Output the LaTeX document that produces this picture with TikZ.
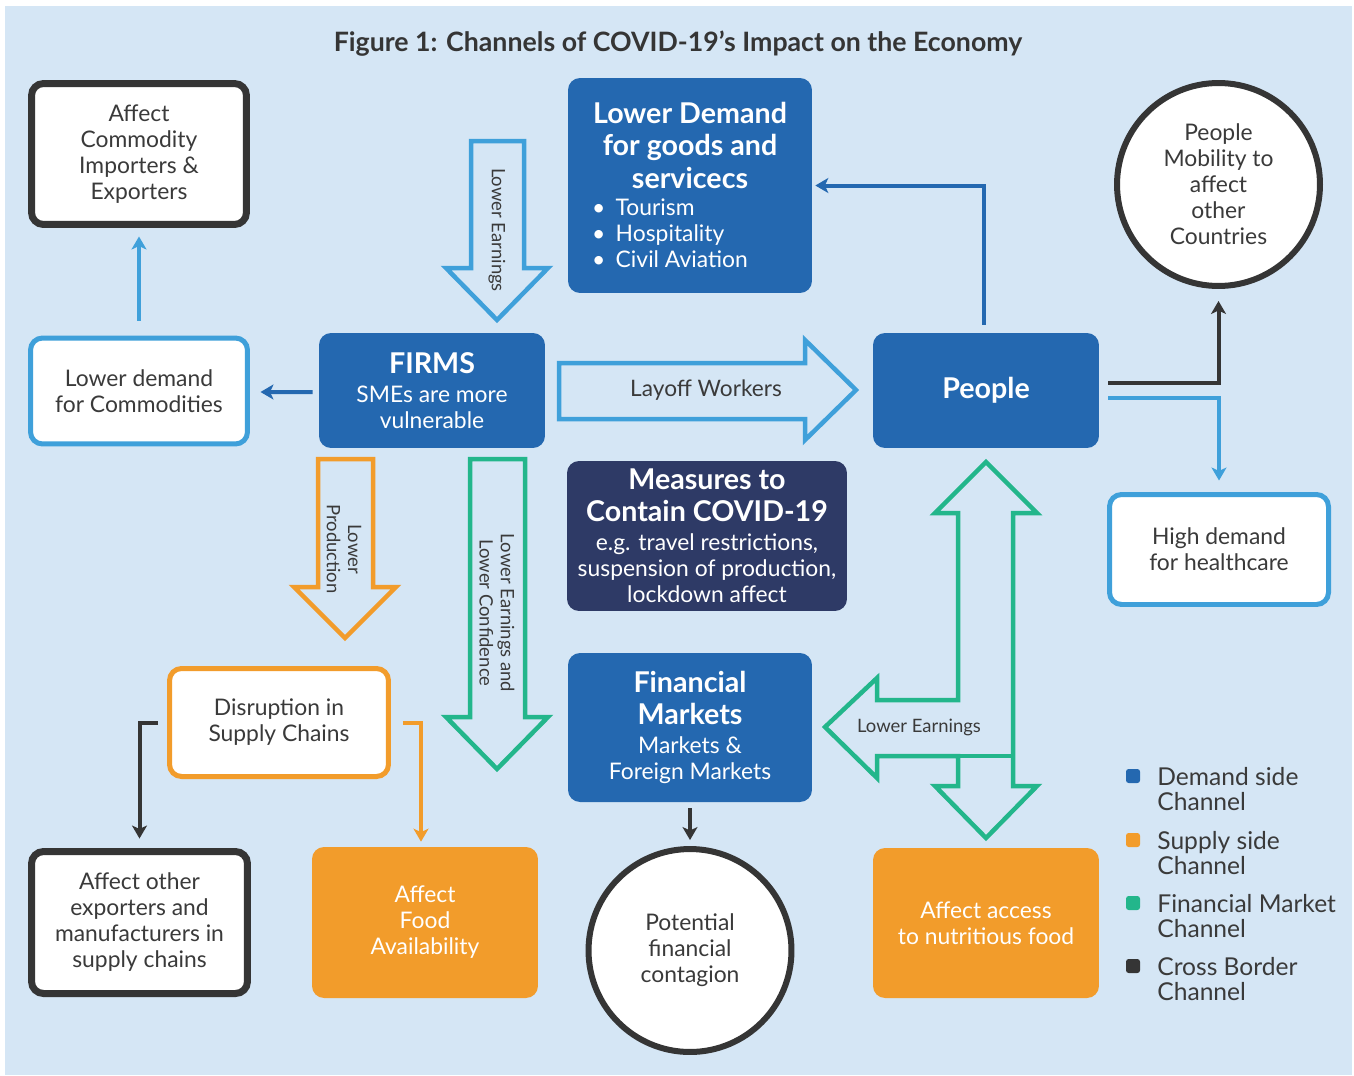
\documentclass[tikz,border=0pt,12pt]{standalone}
\usepackage{fontspec}
\setmainfont{Lato}
\usepackage{tikz}
\usetikzlibrary{arrows.meta,calc}

\definecolor{bgblue}{HTML}{D5E6F5}
\definecolor{demand}{HTML}{2468B0}
\definecolor{lightblue}{HTML}{3FA0DA}
\definecolor{supply}{HTML}{F29C2B}
\definecolor{finance}{HTML}{23B68B}
\definecolor{border}{HTML}{353535}
\definecolor{navy}{HTML}{2E3A66}
\definecolor{ink}{HTML}{3A3A3A}

\newcommand{\hdline}[1]{\textbf{\fontsize{16.3}{18}\selectfont #1}}

\begin{document}
\begin{tikzpicture}[x=0.02cm,y=-0.02cm,
  card/.style={rounded corners=0.24cm,inner sep=0pt,align=center,text=ink,
    font=\fontsize{13}{14.8}\selectfont},
  darkcard/.style={card,draw=border,line width=0.14cm,fill=white},
  bluecard/.style={card,draw=lightblue,line width=0.1cm,fill=white},
  orangecard/.style={card,draw=supply,line width=0.1cm,fill=white},
  tile/.style={card,fill=#1,text=white},
  ring/.style={circle,draw=border,line width=0.12cm,fill=white,inner sep=0pt,
    align=center,text=ink,minimum size=4.06cm,font=\fontsize{13}{14.8}\selectfont},
  link/.style={line width=0.08cm,-{Stealth[length=0.26cm,width=0.3cm,inset=0.07cm]}},
  hollow/.style={line width=0.09cm,line join=miter},
  tag/.style={font=\fontsize{10.5}{12}\selectfont,text=ink,align=center},
  key/.style={rounded corners=1.5pt,minimum size=0.28cm,inner sep=0pt,fill=#1},
  keytext/.style={anchor=west,align=left,inner sep=0pt,text=ink,font=\fontsize{14}{14.2}\selectfont}]

  \useasboundingbox (0,0) rectangle (1354,1075);
  \fill[white] (0,0) rectangle (1354,1075);
  \fill[bgblue] (5,6) rectangle (1352,1075);

  \node[text=border,font=\fontsize{15.2}{18}\selectfont\bfseries] (title) at (678,44)
    {Figure 1: Channels of COVID-19's Impact on the Economy};

  % left column
  \node[darkcard,minimum width=4.3cm,minimum height=2.82cm] (commod) at (139,154)
    {Affect\\Commodity\\Importers \&\\Exporters};
  \node[bluecard,minimum width=4.34cm,minimum height=2.12cm] (lowcom) at (139,391)
    {Lower demand\\for Commodities};
  \node[orangecard,minimum width=4.38cm,minimum height=2.16cm] (disrupt) at (279,722.5)
    {Disruption in\\Supply Chains};
  \node[darkcard,minimum width=4.32cm,minimum height=2.84cm] (othexp) at (139.5,922.5)
    {Affect other\\exporters and\\manufacturers in\\supply chains};
  \node[tile=supply,minimum width=4.52cm,minimum height=3.02cm] (food) at (425,922.5)
    {Affect\\Food\\Availability};

  % middle
  \node[tile=demand,minimum width=4.52cm,minimum height=2.3cm] (firms) at (432,390.5)
    {\hdline{FIRMS}\\[1.5pt]SMEs are more\\vulnerable};
  \node[tile=demand,minimum width=4.88cm,minimum height=4.3cm] (lowdem) at (690,185.5)
    {\rule{0pt}{16pt}\hdline{Lower Demand}\\[3.4pt]\hdline{for goods and}\\[3pt]\hdline{servicecs}\\[4pt]
     \hspace*{-0.8cm}\begin{tabular}{@{}l@{}}\textbullet\hspace{0.45em}Tourism\\
     \textbullet\hspace{0.45em}Hospitality\\\textbullet\hspace{0.45em}Civil Aviation\end{tabular}};
  \node[tile=navy,minimum width=5.6cm,minimum height=3cm] (measures) at (707,536)
    {\hdline{Measures to}\\[3.4pt]\hdline{Contain COVID-19}\\[1.5pt]e.g. travel restrictions,\\suspension of production,\\lockdown affect};
  \node[tile=demand,minimum width=4.88cm,minimum height=2.98cm] (finmkt) at (690,727.5)
    {\hdline{Financial}\\[3.4pt]\hdline{Markets}\\[1.5pt]Markets \&\\Foreign Markets};
  \node[ring] (contagion) at (690,950.5) {Potential\\financial\\contagion};

  % right
  \node[tile=demand,minimum width=4.52cm,minimum height=2.3cm] (people) at (986,390.5)
    {\hdline{People}};
  \node[ring] (mobility) at (1218.5,184.5) {People\\Mobility to\\affect\\other\\Countries};
  \node[bluecard,minimum width=4.38cm,minimum height=2.2cm] (health) at (1219,549.5)
    {High demand\\for healthcare};
  \node[tile=supply,minimum width=4.52cm,minimum height=3cm] (access) at (986,923)
    {Affect access\\to nutritious food};

  % hollow arrows
  \draw[hollow,lightblue] (471,141) -- (524,141) -- (524,268) -- (548,268) -- (497,320)
    -- (446,268) -- (471,268) -- cycle;
  \node[tag,rotate=-90] (earn) at (497,230) {Lower Earnings};
  \draw[hollow,lightblue] (559,363) -- (805,363) -- (805,340) -- (856,390) -- (805,440)
    -- (805,419) -- (559,419) -- cycle;
  \node[tag,font=\fontsize{12.9}{14}\selectfont] (layoff) at (706,390) {Layoff Workers};
  \draw[hollow,supply] (318,459) -- (373,459) -- (373,587) -- (396,587) -- (345,638)
    -- (294,587) -- (318,587) -- cycle;
  \node[tag,rotate=-90] (prod) at (344,549) {Lower\\Production};
  \draw[hollow,finance] (470,459) -- (525,459) -- (525,717) -- (548,717) -- (497,769)
    -- (446,717) -- (470,717) -- cycle;
  \node[tag,rotate=-90] (confid) at (497,613) {Lower Earnings and\\Lower Confidence};
  \draw[hollow,finance] (958,513) -- (935,513) -- (986,462) -- (1037,513) -- (1013,513)
    -- (1013,786) -- (1037,786) -- (986,838) -- (935,786) -- (958,786) -- (958,756)
    -- (877,756) -- (877,778) -- (825,727) -- (877,678) -- (877,700) -- (958,700) -- cycle;
  \draw[hollow,finance] (958,756) -- (1013,756);
  \node[tag] (finearn) at (919,727) {Lower Earnings};

  % connectors
  \draw[link,demand] ($(firms.west)+(-6,1.5)$) -- ($(lowcom.east)+(10.5,1)$);
  \draw[link,lightblue] ($(lowcom.north)+(0,-15)$) -- ($(commod.south)+(0,8.5)$);
  \draw[link,demand] ($(people.north)+(-2,-8)$) |- ($(lowdem.east)+(3,0)$);
  \draw[link,border] ($(people.east)+(9,-8)$) -| ($(mobility.south)+(0,12)$);
  \draw[link,lightblue] ($(people.east)+(9,7.5)$) -| ($(health.north)+(0,-11.5)$);
  \draw[link,border] ($(disrupt.west)+(-9,0)$) -| ($(othexp.north)+(0,-9.5)$);
  \draw[link,supply] ($(disrupt.east)+(12,0)$) -| ($(food.north)+(-4,-5)$);
  \draw[link,border] ($(finmkt.south)+(0,6)$) -- ($(contagion.north)+(0,-6)$);

  % legend
  \node[key=demand] (k1) at (1133,776) {};
  \node[keytext] (t1) at (1157,789) {Demand side\\Channel};
  \node[key=supply] (k2) at (1133,840) {};
  \node[keytext] (t2) at (1157,853) {Supply side\\Channel};
  \node[key=finance] (k3) at (1133,903) {};
  \node[keytext] (t3) at (1157,916) {Financial Market\\Channel};
  \node[key=border] (k4) at (1133,966) {};
  \node[keytext] (t4) at (1157,979) {Cross Border\\Channel};
\end{tikzpicture}
\end{document}
